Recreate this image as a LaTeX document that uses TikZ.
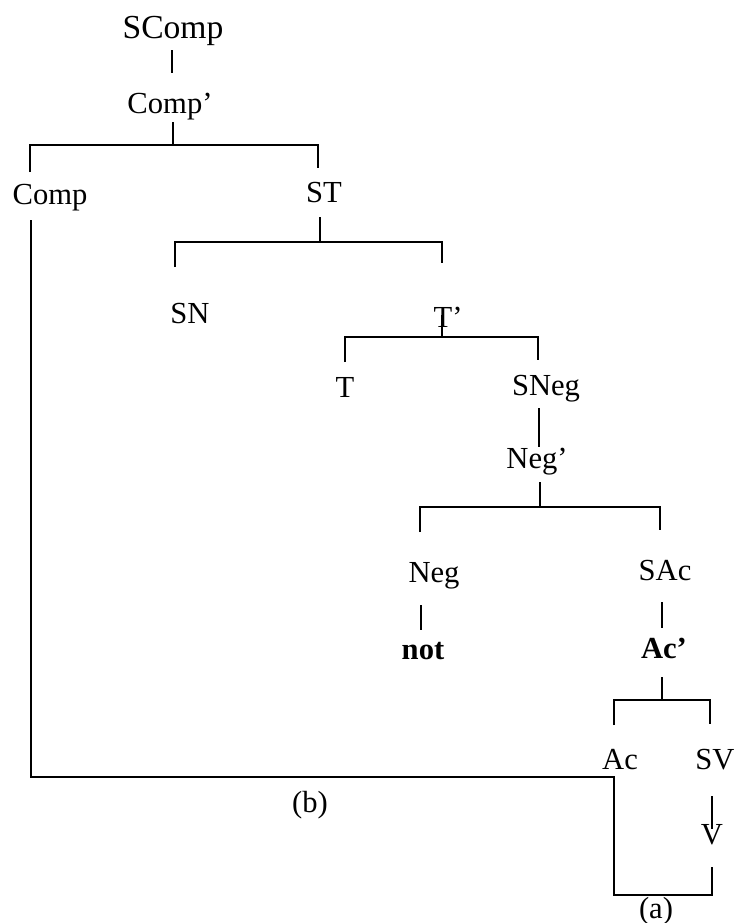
\documentclass[tikz,border=0pt]{standalone}
\usepackage{fontspec}
\setmainfont{Liberation Serif}

\begin{document}
\begin{tikzpicture}[x=0.5pt,y=-0.5pt,
    lbl/.style={anchor=base,inner sep=0pt,font=\fontsize{15.3}{18}\selectfont},
    edge/.style={line width=1.2pt}]
        \useasboundingbox (0,0) rectangle (736,923);

        % Labels of the tree
        \node[lbl,font=\fontsize{16.8}{20}\selectfont] (SComp) at (173,38) {SComp};
        \node[lbl] (Compp) at (170,113) {Comp'};
        \node[lbl] (Comp) at (50,204) {Comp};
        \node[lbl] (ST) at (324,202) {ST};
        \node[lbl] (SN) at (190,323) {SN};
        \node[lbl] (Tp) at (448,327) {T'};
        \node[lbl] (T) at (345,397) {T};
        \node[lbl] (SNeg) at (546,395) {SNeg};
        \node[lbl] (Negp) at (537,468) {Neg'};
        \node[lbl] (Neg) at (434,582) {Neg};
        \node[lbl,font=\fontsize{15.3}{18}\selectfont\bfseries] (not) at (423,659) {not};
        \node[lbl] (SAc) at (665,580) {SAc};
        \node[lbl,font=\fontsize{15.3}{18}\selectfont\bfseries] (Acp) at (664,658) {Ac'};
        \node[lbl] (Ac) at (620,769) {Ac};
        \node[lbl] (SV) at (715,769) {SV};
        \node[lbl] (V) at (712,844) {V};
        \node[lbl] (b) at (310,812) {(b)};
        \node[lbl] (a) at (656,918) {(a)};

        % Ends of the branches
        \coordinate (SComp-d) at (172,50);
        \coordinate (Compp-u) at (172,73);
        \coordinate (Compp-d) at (173,122);
        \coordinate (bar1) at (173,145);
        \coordinate (Comp-u) at (30,172);
        \coordinate (ST-u) at (318,168);
        \coordinate (ST-d) at (320,217);
        \coordinate (bar2) at (320,242);
        \coordinate (SN-u) at (175,267);
        \coordinate (Tp-u) at (442,263);
        \coordinate (Tp-d) at (442,315);
        \coordinate (bar3) at (442,337);
        \coordinate (T-u) at (345,362);
        \coordinate (SNeg-u) at (538,360);
        \coordinate (SNeg-d) at (539,408);
        \coordinate (Negp-u) at (539,447);
        \coordinate (Negp-d) at (540,482);
        \coordinate (bar4) at (540,507);
        \coordinate (Neg-u) at (420,532);
        \coordinate (SAc-u) at (660,530);
        \coordinate (Neg-d) at (421,605);
        \coordinate (not-u) at (421,630);
        \coordinate (SAc-d) at (662,602);
        \coordinate (Acp-u) at (662,628);
        \coordinate (Acp-d) at (662,677);
        \coordinate (bar5) at (662,700);
        \coordinate (Ac-u) at (614,725);
        \coordinate (SV-u) at (710,724);
        \coordinate (SV-d) at (712,796);
        \coordinate (V-u) at (712,829);
        \coordinate (Comp-d) at (31,220);
        \coordinate (Ac-r) at (614,777);
        \coordinate (a-l) at (614,895);
        \coordinate (V-d) at (712,867);

        % Branches
        \draw[edge] (SComp-d) -- (Compp-u);
        \draw[edge] (Compp-d) -- (bar1);
        \draw[edge] (Comp-u) |- (bar1) -| (ST-u);
        \draw[edge] (ST-d) -- (bar2);
        \draw[edge] (SN-u) |- (bar2) -| (Tp-u);
        \draw[edge] (Tp-d) -- (bar3);
        \draw[edge] (T-u) |- (bar3) -| (SNeg-u);
        \draw[edge] (SNeg-d) -- (Negp-u);
        \draw[edge] (Negp-d) -- (bar4);
        \draw[edge] (Neg-u) |- (bar4) -| (SAc-u);
        \draw[edge] (Neg-d) -- (not-u);
        \draw[edge] (SAc-d) -- (Acp-u);
        \draw[edge] (Acp-d) -- (bar5);
        \draw[edge] (Ac-u) |- (bar5) -| (SV-u);
        \draw[edge] (SV-d) -- (V-u);

        % Movement paths (b) and (a)
        \draw[edge] (Comp-d) |- (Ac-r) -- (a-l) -| (V-d);
    \end{tikzpicture}
\end{document}
